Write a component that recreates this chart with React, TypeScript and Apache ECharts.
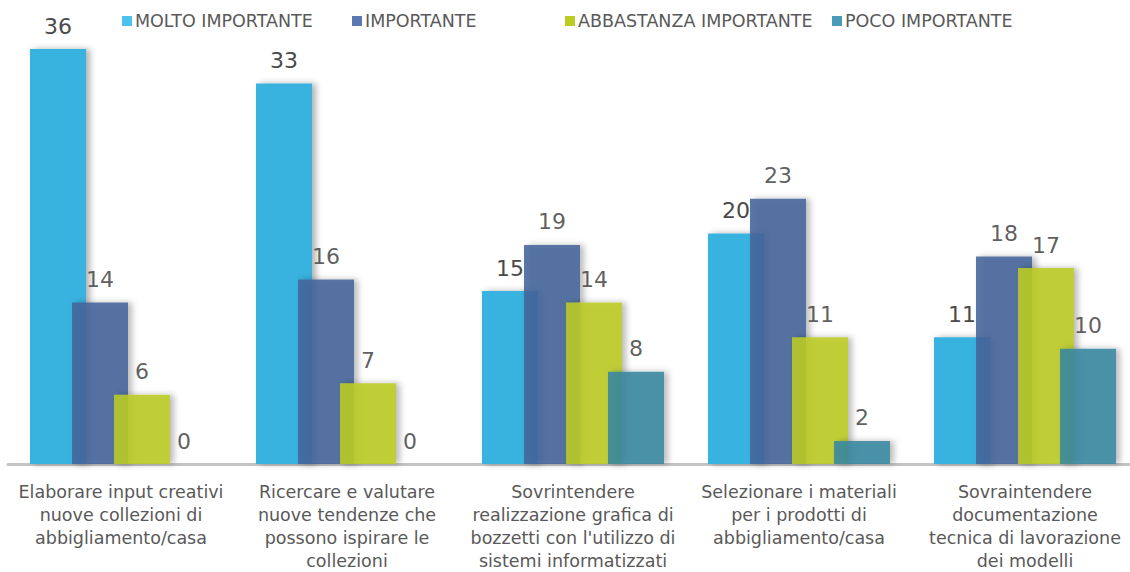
import React, { useEffect, useRef } from "react";
import * as echarts from "echarts";

const categories = [
  "Elaborare input creativi\nnuove collezioni di\nabbigliamento/casa",
  "Ricercare e valutare\nnuove tendenze che\npossono ispirare le\ncollezioni",
  "Sovrintendere\nrealizzazione grafica di\nbozzetti con l'utilizzo di\nsistemi informatizzati",
  "Selezionare i materiali\nper i prodotti di\nabbigliamento/casa",
  "Sovraintendere\ndocumentazione\ntecnica di lavorazione\ndei modelli",
];
const seriesNames = ["MOLTO IMPORTANTE", "IMPORTANTE", "ABBASTANZA IMPORTANTE", "POCO IMPORTANTE"];
const moltoImportante = [36, 33, 15, 20, 11];
const importante = [14, 16, 19, 23, 18];
const abbastanzaImportante = [6, 7, 14, 11, 17];
const pocoImportante = [0, 0, 8, 2, 10];

const barColors = ["#38b2df", "#45649b", "#bccc22", "#3a87a0"];
const legendColors = ["#4cc3ef", "#5b78b0", "#bccc22", "#4a9bb5"];
const legendLeft = [122, 352, 565, 832];

export default function App() {
  const ref = useRef<HTMLDivElement>(null);
  useEffect(() => {
    if (!ref.current) return;
    const chart = echarts.init(ref.current, undefined, { renderer: "svg" });
    const values = [moltoImportante, importante, abbastanzaImportante, pocoImportante];
    chart.setOption({
      animation: false,
      backgroundColor: "#ffffff",
      legend: seriesNames.map((n, i) => ({
        data: [{ name: n, itemStyle: { color: legendColors[i], opacity: 1 } }],
        left: legendLeft[i],
        top: 12,
        padding: 0,
        itemWidth: 10,
        itemHeight: 10,
        itemGap: 4,
        icon: "rect",
        textStyle: { color: "#595959", fontSize: 17.5, fontFamily: "DejaVu Sans", padding: [0, 0, 0, -2] },
      })),
      grid: { left: 8, width: 1130, top: 49, bottom: 103, containLabel: false },
      xAxis: {
        type: "category",
        data: categories,
        axisLine: { show: true, lineStyle: { color: "#c4c4c4", width: 3 } },
        axisTick: { show: false },
        axisLabel: {
          interval: 0,
          color: "#595959",
          fontSize: 17.5,
          lineHeight: 23,
          fontFamily: "DejaVu Sans",
          margin: 16,
          align: "center",
        },
      },
      yAxis: { type: "value", min: 0, max: 36, show: false, splitLine: { show: false } },
      series: seriesNames.map((n, i) => ({
        name: n,
        type: "bar",
        data: values[i],
        barWidth: 56,
        barGap: "-25%",
        itemStyle: {
          color: barColors[i],
          opacity: i === 0 ? 1 : 0.88,
          shadowBlur: 6,
          shadowOffsetX: 4,
          shadowOffsetY: 0,
          shadowColor: "rgba(0,0,0,0.3)",
        },
        label: {
          show: true,
          position: "top",
          distance: 12,
          color: "#4a4a4a",
          fontSize: 22,
          fontFamily: "DejaVu Sans",
          fontWeight: "normal",
        },
      })),
    });
    return () => chart.dispose();
  }, []);
  return <div ref={ref} style={{ position: "fixed", left: 0, top: 0, width: 1146, height: 572 }} />;
}
